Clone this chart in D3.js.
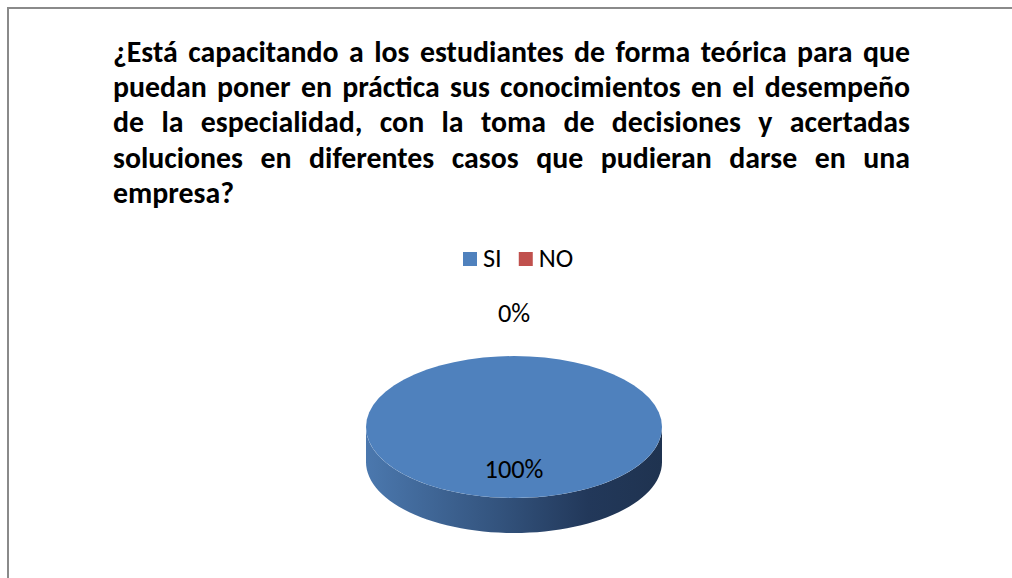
<!DOCTYPE html>
<html>
<head>
<meta charset="utf-8">
<script src="https://cdn.jsdelivr.net/npm/d3@7"></script>
<style>
  body { margin: 0; background: #fff; }
</style>
</head>
<body>
<div class="chart"></div>
<script>
// data
var categories = ["SI", "NO"];
var values = [100, 0];
var valueLabels = ["100%", "0%"];
var colors = ["#4F81BD", "#C0504D"];
var titleLines = [
  "¿Está capacitando a los estudiantes de forma teórica para que",
  "puedan poner en práctica sus conocimientos en el desempeño",
  "de la especialidad, con la toma de decisiones y acertadas",
  "soluciones en diferentes casos que pudieran darse en una",
  "empresa?"
];

var svgWidth = 1012;
var svgHeight = 578;
var fontStack = "Carlito, 'Liberation Sans', Arial, sans-serif";

var svg = d3.select(".chart")
  .append("svg")
  .attr("width", svgWidth)
  .attr("height", svgHeight);

// chart frame (runs off the right and bottom edge)
svg.append("rect")
  .attr("x", 8)
  .attr("y", 8)
  .attr("width", 1100)
  .attr("height", 700)
  .attr("fill", "#fff")
  .attr("stroke", "#8a8a8a")
  .attr("stroke-width", 2);

// measure helper
function textWidth(str, size, weight) {
  var t = svg.append("text")
    .style("font-family", fontStack)
    .style("font-weight", weight)
    .style("font-size", size + "px")
    .text(str);
  var w = t.node().getComputedTextLength();
  t.remove();
  return w;
}

// title, justified like the original
var titleLeft = 113, titleRight = 910, titleTop = 61.5, lineStep = 35.4;
var titleSize = 30;
// horizontal squeeze so the last line keeps its width and all lines fit
var squeeze = Math.min(1, 121 / textWidth("empresa?", titleSize, "bold"));
titleLines.slice(0, -1).forEach(function(line) {
  var words = line.split(" ");
  var w = d3.sum(words, d => textWidth(d, titleSize, "bold"));
  squeeze = Math.min(squeeze, (titleRight - titleLeft - (words.length - 1) * 7) / w);
});

var titleGroup = svg.append("g")
  .style("font-family", fontStack)
  .style("font-weight", "bold")
  .style("font-size", titleSize + "px")
  .attr("fill", "#000");

titleLines.forEach(function(line, i) {
  var words = line.split(" ");
  var widths = words.map(d => textWidth(d, titleSize, "bold") * squeeze);
  var last = i === titleLines.length - 1;
  var gap = last || words.length < 2
    ? 7
    : (titleRight - titleLeft - d3.sum(widths)) / (words.length - 1);
  var x = titleLeft;
  words.forEach(function(w, j) {
    titleGroup.append("text")
      .attr("x", x)
      .attr("y", titleTop + i * lineStep)
      .attr("textLength", widths[j])
      .attr("lengthAdjust", "spacingAndGlyphs")
      .text(w);
    x += widths[j] + gap;
  });
});

// legend
var labelSize = 100 * 59 / textWidth("100%", 100, "normal");
var legend = svg.append("g")
  .style("font-family", fontStack)
  .style("font-size", labelSize + "px");
var lx = 463;
categories.forEach(function(c, i) {
  legend.append("rect")
    .attr("x", lx)
    .attr("y", 252)
    .attr("width", 14)
    .attr("height", 14)
    .attr("fill", colors[i]);
  legend.append("text")
    .attr("x", lx + 20)
    .attr("y", 266.5)
    .attr("fill", "#000")
    .text(c);
  lx += 20 + textWidth(c, labelSize, "normal") + 17;
});

// 3D pie
var cx = 514, cy = 427, rx = 148, ry = 71, depth = 35;

var pie = d3.pie().sort(null).value(d => d)
  .startAngle(0).endAngle(2 * Math.PI);
var arcs = pie(values);

function px(a, r) { return cx + rx * r * Math.sin(a); }
function py(a, r) { return cy - ry * r * Math.cos(a); }

function ellipseArc(a0, a1, dy) {
  return d3.range(0, 61).map(k => {
    var a = a0 + (a1 - a0) * k / 60;
    return [px(a, 1), py(a, 1) + dy];
  });
}

var defs = svg.append("defs");
var grad = defs.append("linearGradient")
  .attr("id", "side0")
  .attr("gradientUnits", "userSpaceOnUse")
  .attr("x1", cx - rx).attr("x2", cx + rx)
  .attr("y1", 0).attr("y2", 0);
grad.append("stop").attr("offset", "0").attr("stop-color", "#4b78ae");
grad.append("stop").attr("offset", "0.45").attr("stop-color", "#33537d");
grad.append("stop").attr("offset", "0.75").attr("stop-color", "#22385a");
grad.append("stop").attr("offset", "1").attr("stop-color", "#1f3350");

var sideGrad2 = defs.append("linearGradient")
  .attr("id", "side1")
  .attr("gradientUnits", "userSpaceOnUse")
  .attr("x1", cx - rx).attr("x2", cx + rx)
  .attr("y1", 0).attr("y2", 0);
sideGrad2.append("stop").attr("offset", "0").attr("stop-color", "#a84643");
sideGrad2.append("stop").attr("offset", "1").attr("stop-color", "#5e2322");

var line = d3.line();
var pieGroup = svg.append("g");

// front side walls
arcs.forEach(function(d, i) {
  var a0 = Math.max(d.startAngle, Math.PI / 2);
  var a1 = Math.min(d.endAngle, 3 * Math.PI / 2);
  if (a1 <= a0) return;
  var top = ellipseArc(a0, a1, 0);
  var bottom = ellipseArc(a1, a0, depth);
  pieGroup.append("path")
    .attr("d", line(top.concat(bottom)) + "Z")
    .attr("fill", "url(#side" + i + ")");
});

// top faces
arcs.forEach(function(d, i) {
  if (d.endAngle - d.startAngle <= 0) return;
  var pts = ellipseArc(d.startAngle, d.endAngle, 0);
  if (d.endAngle - d.startAngle < 2 * Math.PI - 1e-6) pts = [[cx, cy]].concat(pts);
  pieGroup.append("path")
    .attr("d", line(pts) + "Z")
    .attr("fill", colors[i]);
});

// data labels
var labelGroup = svg.append("g")
  .style("font-family", fontStack)
  .style("font-size", labelSize + "px")
  .attr("fill", "#000")
  .attr("text-anchor", "middle");

arcs.forEach(function(d, i) {
  var mid = (d.startAngle + d.endAngle) / 2;
  var inside = d.endAngle - d.startAngle > 0.3;
  var r = inside ? 0.6 : 1.6;
  labelGroup.append("text")
    .attr("x", px(mid, r))
    .attr("y", py(mid, r) + labelSize * 0.33)
    .text(valueLabels[i]);
});
</script>
</body>
</html>
